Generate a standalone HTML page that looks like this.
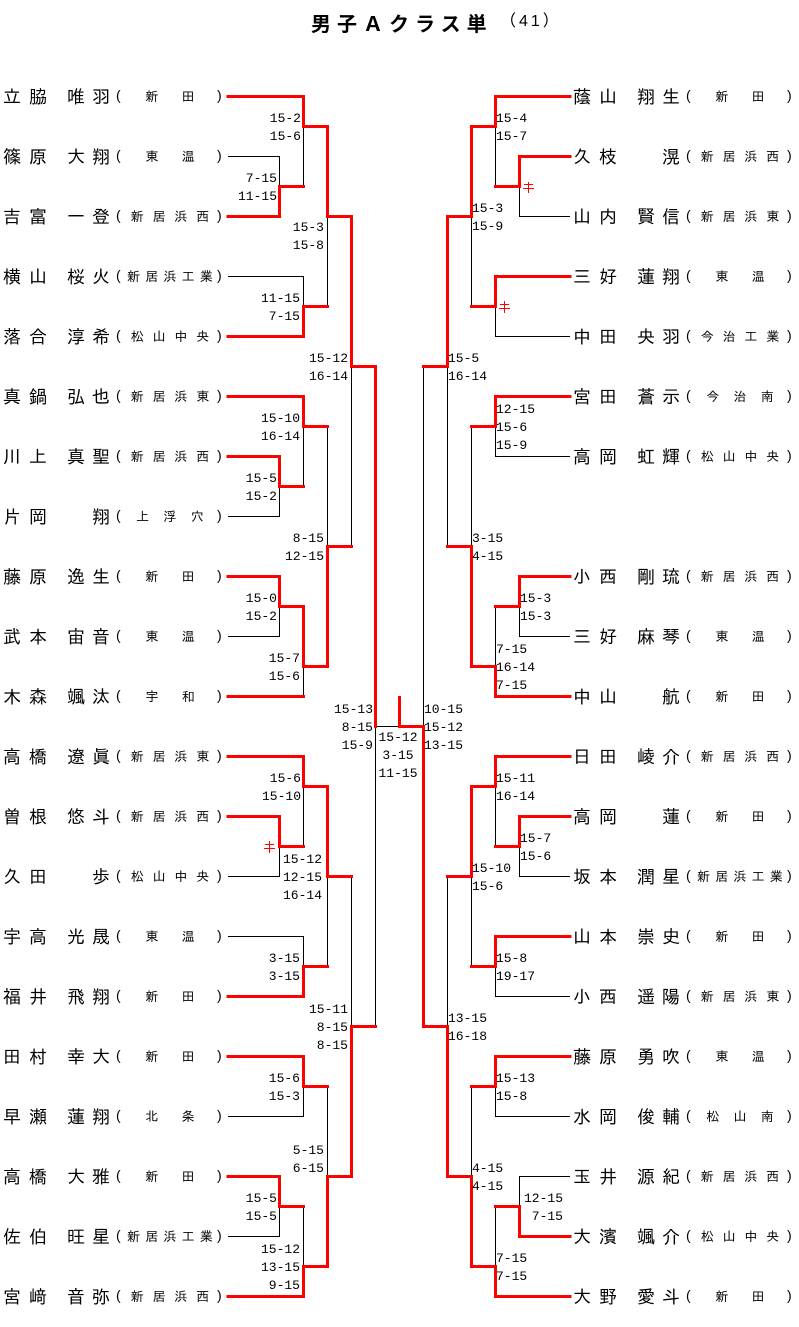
<!DOCTYPE html>
<html><head><meta charset="utf-8">
<style>
body{margin:0;width:799px;height:1327px;background:#fff;position:relative;overflow:hidden}
.t{position:absolute;font-family:"Liberation Mono",monospace;font-size:13px;line-height:18px;white-space:nowrap;color:#000}
.tr{width:60px;text-align:right}
.tc{width:60px;text-align:center}
.row{position:absolute;height:18px;width:230px;line-height:18px;font-family:"Liberation Sans","IPAGothic","Noto Sans CJK JP",sans-serif;color:#000}
.row span{position:absolute;top:0}
.n{font-size:18px}
.a{left:3px}.b{left:29px}.c{left:67px}.d{left:92px}
.row .po{left:116px;font-size:14px;top:-2px}
.row .pc{left:217px;font-size:14px;top:-2px}
.af{position:absolute;left:122px;top:0;width:96px;height:18px;display:flex;justify-content:space-evenly;align-items:center;font-size:13px}
.af i{font-style:normal;width:13px;line-height:18px;text-align:center}
svg{position:absolute;left:0;top:0}
</style></head><body>
<svg width="799" height="1327" viewBox="0 0 799 1327">
<g fill="none" stroke="#000" stroke-width="1">
<path d="M228 156.5H279.5V186.5 M303.5 126.5V186.5 M228 276.5H303.5V306.5 M327.5 216.5V306.5 M303.5 426.5V486.5 M228 516.5H279.5V486.5 M228 636.5H279.5V606.5 M303.5 666.5V696.5 M327.5 426.5V546.5 M351.5 366.5V546.5 M375.5 726.5V1026.5 M375.5 726.5H399.5 M228 876.5H279.5V846.5 M303.5 786.5V846.5 M228 936.5H303.5V966.5 M327.5 876.5V966.5 M228 1116.5H303.5V1086.5 M228 1236.5H279.5V1206.5 M303.5 1206.5V1266.5 M327.5 1086.5V1176.5 M351.5 876.5V1026.5"/>
<path d="M570 216.5H519.5V186.5 M495.5 126.5V186.5 M570 336.5H495.5V306.5 M471.5 216.5V306.5 M570 456.5H495.5V426.5 M570 636.5H519.5V606.5 M495.5 606.5V666.5 M471.5 426.5V546.5 M447.5 366.5V546.5 M423.5 366.5V726.5 M570 876.5H519.5V846.5 M495.5 786.5V846.5 M570 996.5H495.5V966.5 M471.5 876.5V966.5 M570 1116.5H495.5V1086.5 M570 1176.5H519.5V1206.5 M495.5 1206.5V1266.5 M471.5 1086.5V1176.5 M447.5 876.5V1026.5"/>
</g>
<g fill="none" stroke="#ff0000" stroke-width="3" stroke-linecap="square" stroke-linejoin="miter">
<path d="M228 96.5H303.5V126.5H327.5V216.5H351.5V366.5H375.5V726.5"/>
<path d="M228 216.5H279.5V186.5H303.5"/>
<path d="M228 336.5H303.5V306.5H327.5"/>
<path d="M228 396.5H303.5V426.5H327.5"/>
<path d="M228 456.5H279.5V486.5H303.5"/>
<path d="M228 576.5H279.5V606.5H303.5V666.5H327.5V546.5H351.5"/>
<path d="M228 696.5H303.5"/>
<path d="M228 756.5H303.5V786.5H327.5V876.5H351.5"/>
<path d="M228 816.5H279.5V846.5H303.5"/>
<path d="M228 996.5H303.5V966.5H327.5"/>
<path d="M228 1056.5H303.5V1086.5H327.5"/>
<path d="M228 1176.5H279.5V1206.5H303.5"/>
<path d="M228 1296.5H303.5V1266.5H327.5V1176.5H351.5V1026.5H375.5"/>
<path d="M570 96.5H495.5V126.5H471.5V216.5H447.5V366.5H423.5"/>
<path d="M570 156.5H519.5V186.5H495.5"/>
<path d="M570 276.5H495.5V306.5H471.5"/>
<path d="M570 396.5H495.5V426.5H471.5"/>
<path d="M570 576.5H519.5V606.5H495.5"/>
<path d="M570 696.5H495.5V666.5H471.5V546.5H447.5"/>
<path d="M570 756.5H495.5V786.5H471.5V876.5H447.5"/>
<path d="M570 816.5H519.5V846.5H495.5"/>
<path d="M570 936.5H495.5V966.5H471.5"/>
<path d="M570 1056.5H495.5V1086.5H471.5"/>
<path d="M570 1236.5H519.5V1206.5H495.5"/>
<path d="M570 1296.5H495.5V1266.5H471.5V1176.5H447.5V1026.5H423.5V726.5H399.5V697.5"/>
</g>
<g fill="none" stroke="#ff0000" stroke-width="1">
<path d="M265 844.5H274 M264 848.5H275 M269.5 841V853"/>
<path d="M524 184.5H533 M523 188.5H534 M528.5 182V193"/>
<path d="M500 304.5H509 M499 308.5H510 M504.5 301V313"/>
</g>
</svg>

<div style="position:absolute;left:311px;top:15px;font:bold 20px/20px 'Liberation Sans','Noto Sans CJK JP',sans-serif;letter-spacing:6px;white-space:nowrap">男子Ａクラス単</div>
<div style="position:absolute;left:500px;top:14px;font:16px/16px 'Liberation Sans','Noto Sans CJK JP',sans-serif;letter-spacing:3px;white-space:nowrap">（41）</div>

<!-- left rows -->
<div class="row" style="top:88px;left:0"><span class="n a">立</span><span class="n b">脇</span><span class="n c">唯</span><span class="n d">羽</span><span class="po">(</span><div class="af"><i>新</i><i>田</i></div><span class="pc">)</span></div>
<div class="row" style="top:148px;left:0"><span class="n a">篠</span><span class="n b">原</span><span class="n c">大</span><span class="n d">翔</span><span class="po">(</span><div class="af"><i>東</i><i>温</i></div><span class="pc">)</span></div>
<div class="row" style="top:208px;left:0"><span class="n a">吉</span><span class="n b">富</span><span class="n c">一</span><span class="n d">登</span><span class="po">(</span><div class="af"><i>新</i><i>居</i><i>浜</i><i>西</i></div><span class="pc">)</span></div>
<div class="row" style="top:268px;left:0"><span class="n a">横</span><span class="n b">山</span><span class="n c">桜</span><span class="n d">火</span><span class="po">(</span><div class="af"><i>新</i><i>居</i><i>浜</i><i>工</i><i>業</i></div><span class="pc">)</span></div>
<div class="row" style="top:328px;left:0"><span class="n a">落</span><span class="n b">合</span><span class="n c">淳</span><span class="n d">希</span><span class="po">(</span><div class="af"><i>松</i><i>山</i><i>中</i><i>央</i></div><span class="pc">)</span></div>
<div class="row" style="top:388px;left:0"><span class="n a">真</span><span class="n b">鍋</span><span class="n c">弘</span><span class="n d">也</span><span class="po">(</span><div class="af"><i>新</i><i>居</i><i>浜</i><i>東</i></div><span class="pc">)</span></div>
<div class="row" style="top:448px;left:0"><span class="n a">川</span><span class="n b">上</span><span class="n c">真</span><span class="n d">聖</span><span class="po">(</span><div class="af"><i>新</i><i>居</i><i>浜</i><i>西</i></div><span class="pc">)</span></div>
<div class="row" style="top:508px;left:0"><span class="n a">片</span><span class="n b">岡</span><span class="n d">翔</span><span class="po">(</span><div class="af"><i>上</i><i>浮</i><i>穴</i></div><span class="pc">)</span></div>
<div class="row" style="top:568px;left:0"><span class="n a">藤</span><span class="n b">原</span><span class="n c">逸</span><span class="n d">生</span><span class="po">(</span><div class="af"><i>新</i><i>田</i></div><span class="pc">)</span></div>
<div class="row" style="top:628px;left:0"><span class="n a">武</span><span class="n b">本</span><span class="n c">宙</span><span class="n d">音</span><span class="po">(</span><div class="af"><i>東</i><i>温</i></div><span class="pc">)</span></div>
<div class="row" style="top:688px;left:0"><span class="n a">木</span><span class="n b">森</span><span class="n c">颯</span><span class="n d">汰</span><span class="po">(</span><div class="af"><i>宇</i><i>和</i></div><span class="pc">)</span></div>
<div class="row" style="top:748px;left:0"><span class="n a">高</span><span class="n b">橋</span><span class="n c">遼</span><span class="n d">眞</span><span class="po">(</span><div class="af"><i>新</i><i>居</i><i>浜</i><i>東</i></div><span class="pc">)</span></div>
<div class="row" style="top:808px;left:0"><span class="n a">曽</span><span class="n b">根</span><span class="n c">悠</span><span class="n d">斗</span><span class="po">(</span><div class="af"><i>新</i><i>居</i><i>浜</i><i>西</i></div><span class="pc">)</span></div>
<div class="row" style="top:868px;left:0"><span class="n a">久</span><span class="n b">田</span><span class="n d">歩</span><span class="po">(</span><div class="af"><i>松</i><i>山</i><i>中</i><i>央</i></div><span class="pc">)</span></div>
<div class="row" style="top:928px;left:0"><span class="n a">宇</span><span class="n b">高</span><span class="n c">光</span><span class="n d">晟</span><span class="po">(</span><div class="af"><i>東</i><i>温</i></div><span class="pc">)</span></div>
<div class="row" style="top:988px;left:0"><span class="n a">福</span><span class="n b">井</span><span class="n c">飛</span><span class="n d">翔</span><span class="po">(</span><div class="af"><i>新</i><i>田</i></div><span class="pc">)</span></div>
<div class="row" style="top:1048px;left:0"><span class="n a">田</span><span class="n b">村</span><span class="n c">幸</span><span class="n d">大</span><span class="po">(</span><div class="af"><i>新</i><i>田</i></div><span class="pc">)</span></div>
<div class="row" style="top:1108px;left:0"><span class="n a">早</span><span class="n b">瀬</span><span class="n c">蓮</span><span class="n d">翔</span><span class="po">(</span><div class="af"><i>北</i><i>条</i></div><span class="pc">)</span></div>
<div class="row" style="top:1168px;left:0"><span class="n a">高</span><span class="n b">橋</span><span class="n c">大</span><span class="n d">雅</span><span class="po">(</span><div class="af"><i>新</i><i>田</i></div><span class="pc">)</span></div>
<div class="row" style="top:1228px;left:0"><span class="n a">佐</span><span class="n b">伯</span><span class="n c">旺</span><span class="n d">星</span><span class="po">(</span><div class="af"><i>新</i><i>居</i><i>浜</i><i>工</i><i>業</i></div><span class="pc">)</span></div>
<div class="row" style="top:1288px;left:0"><span class="n a">宮</span><span class="n b">﨑</span><span class="n c">音</span><span class="n d">弥</span><span class="po">(</span><div class="af"><i>新</i><i>居</i><i>浜</i><i>西</i></div><span class="pc">)</span></div>

<!-- right rows -->
<div class="row" style="top:88px;left:570px"><span class="n a">蔭</span><span class="n b">山</span><span class="n c">翔</span><span class="n d">生</span><span class="po">(</span><div class="af"><i>新</i><i>田</i></div><span class="pc">)</span></div>
<div class="row" style="top:148px;left:570px"><span class="n a">久</span><span class="n b">枝</span><span class="n d">滉</span><span class="po">(</span><div class="af"><i>新</i><i>居</i><i>浜</i><i>西</i></div><span class="pc">)</span></div>
<div class="row" style="top:208px;left:570px"><span class="n a">山</span><span class="n b">内</span><span class="n c">賢</span><span class="n d">信</span><span class="po">(</span><div class="af"><i>新</i><i>居</i><i>浜</i><i>東</i></div><span class="pc">)</span></div>
<div class="row" style="top:268px;left:570px"><span class="n a">三</span><span class="n b">好</span><span class="n c">蓮</span><span class="n d">翔</span><span class="po">(</span><div class="af"><i>東</i><i>温</i></div><span class="pc">)</span></div>
<div class="row" style="top:328px;left:570px"><span class="n a">中</span><span class="n b">田</span><span class="n c">央</span><span class="n d">羽</span><span class="po">(</span><div class="af"><i>今</i><i>治</i><i>工</i><i>業</i></div><span class="pc">)</span></div>
<div class="row" style="top:388px;left:570px"><span class="n a">宮</span><span class="n b">田</span><span class="n c">蒼</span><span class="n d">示</span><span class="po">(</span><div class="af"><i>今</i><i>治</i><i>南</i></div><span class="pc">)</span></div>
<div class="row" style="top:448px;left:570px"><span class="n a">高</span><span class="n b">岡</span><span class="n c">虹</span><span class="n d">輝</span><span class="po">(</span><div class="af"><i>松</i><i>山</i><i>中</i><i>央</i></div><span class="pc">)</span></div>
<div class="row" style="top:568px;left:570px"><span class="n a">小</span><span class="n b">西</span><span class="n c">剛</span><span class="n d">琉</span><span class="po">(</span><div class="af"><i>新</i><i>居</i><i>浜</i><i>西</i></div><span class="pc">)</span></div>
<div class="row" style="top:628px;left:570px"><span class="n a">三</span><span class="n b">好</span><span class="n c">麻</span><span class="n d">琴</span><span class="po">(</span><div class="af"><i>東</i><i>温</i></div><span class="pc">)</span></div>
<div class="row" style="top:688px;left:570px"><span class="n a">中</span><span class="n b">山</span><span class="n d">航</span><span class="po">(</span><div class="af"><i>新</i><i>田</i></div><span class="pc">)</span></div>
<div class="row" style="top:748px;left:570px"><span class="n a">日</span><span class="n b">田</span><span class="n c">崚</span><span class="n d">介</span><span class="po">(</span><div class="af"><i>新</i><i>居</i><i>浜</i><i>西</i></div><span class="pc">)</span></div>
<div class="row" style="top:808px;left:570px"><span class="n a">高</span><span class="n b">岡</span><span class="n d">蓮</span><span class="po">(</span><div class="af"><i>新</i><i>田</i></div><span class="pc">)</span></div>
<div class="row" style="top:868px;left:570px"><span class="n a">坂</span><span class="n b">本</span><span class="n c">潤</span><span class="n d">星</span><span class="po">(</span><div class="af"><i>新</i><i>居</i><i>浜</i><i>工</i><i>業</i></div><span class="pc">)</span></div>
<div class="row" style="top:928px;left:570px"><span class="n a">山</span><span class="n b">本</span><span class="n c">崇</span><span class="n d">史</span><span class="po">(</span><div class="af"><i>新</i><i>田</i></div><span class="pc">)</span></div>
<div class="row" style="top:988px;left:570px"><span class="n a">小</span><span class="n b">西</span><span class="n c">遥</span><span class="n d">陽</span><span class="po">(</span><div class="af"><i>新</i><i>居</i><i>浜</i><i>東</i></div><span class="pc">)</span></div>
<div class="row" style="top:1048px;left:570px"><span class="n a">藤</span><span class="n b">原</span><span class="n c">勇</span><span class="n d">吹</span><span class="po">(</span><div class="af"><i>東</i><i>温</i></div><span class="pc">)</span></div>
<div class="row" style="top:1108px;left:570px"><span class="n a">水</span><span class="n b">岡</span><span class="n c">俊</span><span class="n d">輔</span><span class="po">(</span><div class="af"><i>松</i><i>山</i><i>南</i></div><span class="pc">)</span></div>
<div class="row" style="top:1168px;left:570px"><span class="n a">玉</span><span class="n b">井</span><span class="n c">源</span><span class="n d">紀</span><span class="po">(</span><div class="af"><i>新</i><i>居</i><i>浜</i><i>西</i></div><span class="pc">)</span></div>
<div class="row" style="top:1228px;left:570px"><span class="n a">大</span><span class="n b">濱</span><span class="n c">颯</span><span class="n d">介</span><span class="po">(</span><div class="af"><i>松</i><i>山</i><i>中</i><i>央</i></div><span class="pc">)</span></div>
<div class="row" style="top:1288px;left:570px"><span class="n a">大</span><span class="n b">野</span><span class="n c">愛</span><span class="n d">斗</span><span class="po">(</span><div class="af"><i>新</i><i>田</i></div><span class="pc">)</span></div>

<!-- left scores -->
<div class="t tr" style="left:241px;top:110px">15-2<br>15-6</div>
<div class="t tr" style="left:217px;top:170px">7-15<br>11-15</div>
<div class="t tr" style="left:264px;top:219px">15-3<br>15-8</div>
<div class="t tr" style="left:240px;top:290px">11-15<br>7-15</div>
<div class="t tr" style="left:288px;top:350px">15-12<br>16-14</div>
<div class="t tr" style="left:240px;top:410px">15-10<br>16-14</div>
<div class="t tr" style="left:217px;top:470px">15-5<br>15-2</div>
<div class="t tr" style="left:264px;top:530px">8-15<br>12-15</div>
<div class="t tr" style="left:217px;top:590px">15-0<br>15-2</div>
<div class="t tr" style="left:240px;top:650px">15-7<br>15-6</div>
<div class="t tr" style="left:313px;top:701px">15-13<br>8-15<br>15-9</div>
<div class="t tr" style="left:241px;top:770px">15-6<br>15-10</div>
<div class="t" style="left:283px;top:851px">15-12<br>12-15<br>16-14</div>
<div class="t tr" style="left:240px;top:950px">3-15<br>3-15</div>
<div class="t tr" style="left:288px;top:1001px">15-11<br>8-15<br>8-15</div>
<div class="t tr" style="left:240px;top:1070px">15-6<br>15-3</div>
<div class="t tr" style="left:264px;top:1142px">5-15<br>6-15</div>
<div class="t tr" style="left:217px;top:1190px">15-5<br>15-5</div>
<div class="t tr" style="left:240px;top:1241px">15-12<br>13-15<br>9-15</div>
<div class="t tc" style="left:368px;top:729px">15-12<br>3-15<br>11-15</div>

<!-- right scores -->
<div class="t" style="left:496px;top:110px">15-4<br>15-7</div>
<div class="t" style="left:472px;top:200px">15-3<br>15-9</div>
<div class="t" style="left:448px;top:350px">15-5<br>16-14</div>
<div class="t" style="left:496px;top:401px">12-15<br>15-6<br>15-9</div>
<div class="t" style="left:472px;top:530px">3-15<br>4-15</div>
<div class="t" style="left:520px;top:590px">15-3<br>15-3</div>
<div class="t" style="left:496px;top:641px">7-15<br>16-14<br>7-15</div>
<div class="t" style="left:424px;top:701px">10-15<br>15-12<br>13-15</div>
<div class="t" style="left:496px;top:770px">15-11<br>16-14</div>
<div class="t" style="left:520px;top:830px">15-7<br>15-6</div>
<div class="t" style="left:472px;top:860px">15-10<br>15-6</div>
<div class="t" style="left:496px;top:950px">15-8<br>19-17</div>
<div class="t" style="left:448px;top:1010px">13-15<br>16-18</div>
<div class="t" style="left:496px;top:1070px">15-13<br>15-8</div>
<div class="t" style="left:472px;top:1160px">4-15<br>4-15</div>
<div class="t tr" style="left:503px;top:1190px">12-15<br>7-15</div>
<div class="t" style="left:496px;top:1250px">7-15<br>7-15</div>
</body></html>
